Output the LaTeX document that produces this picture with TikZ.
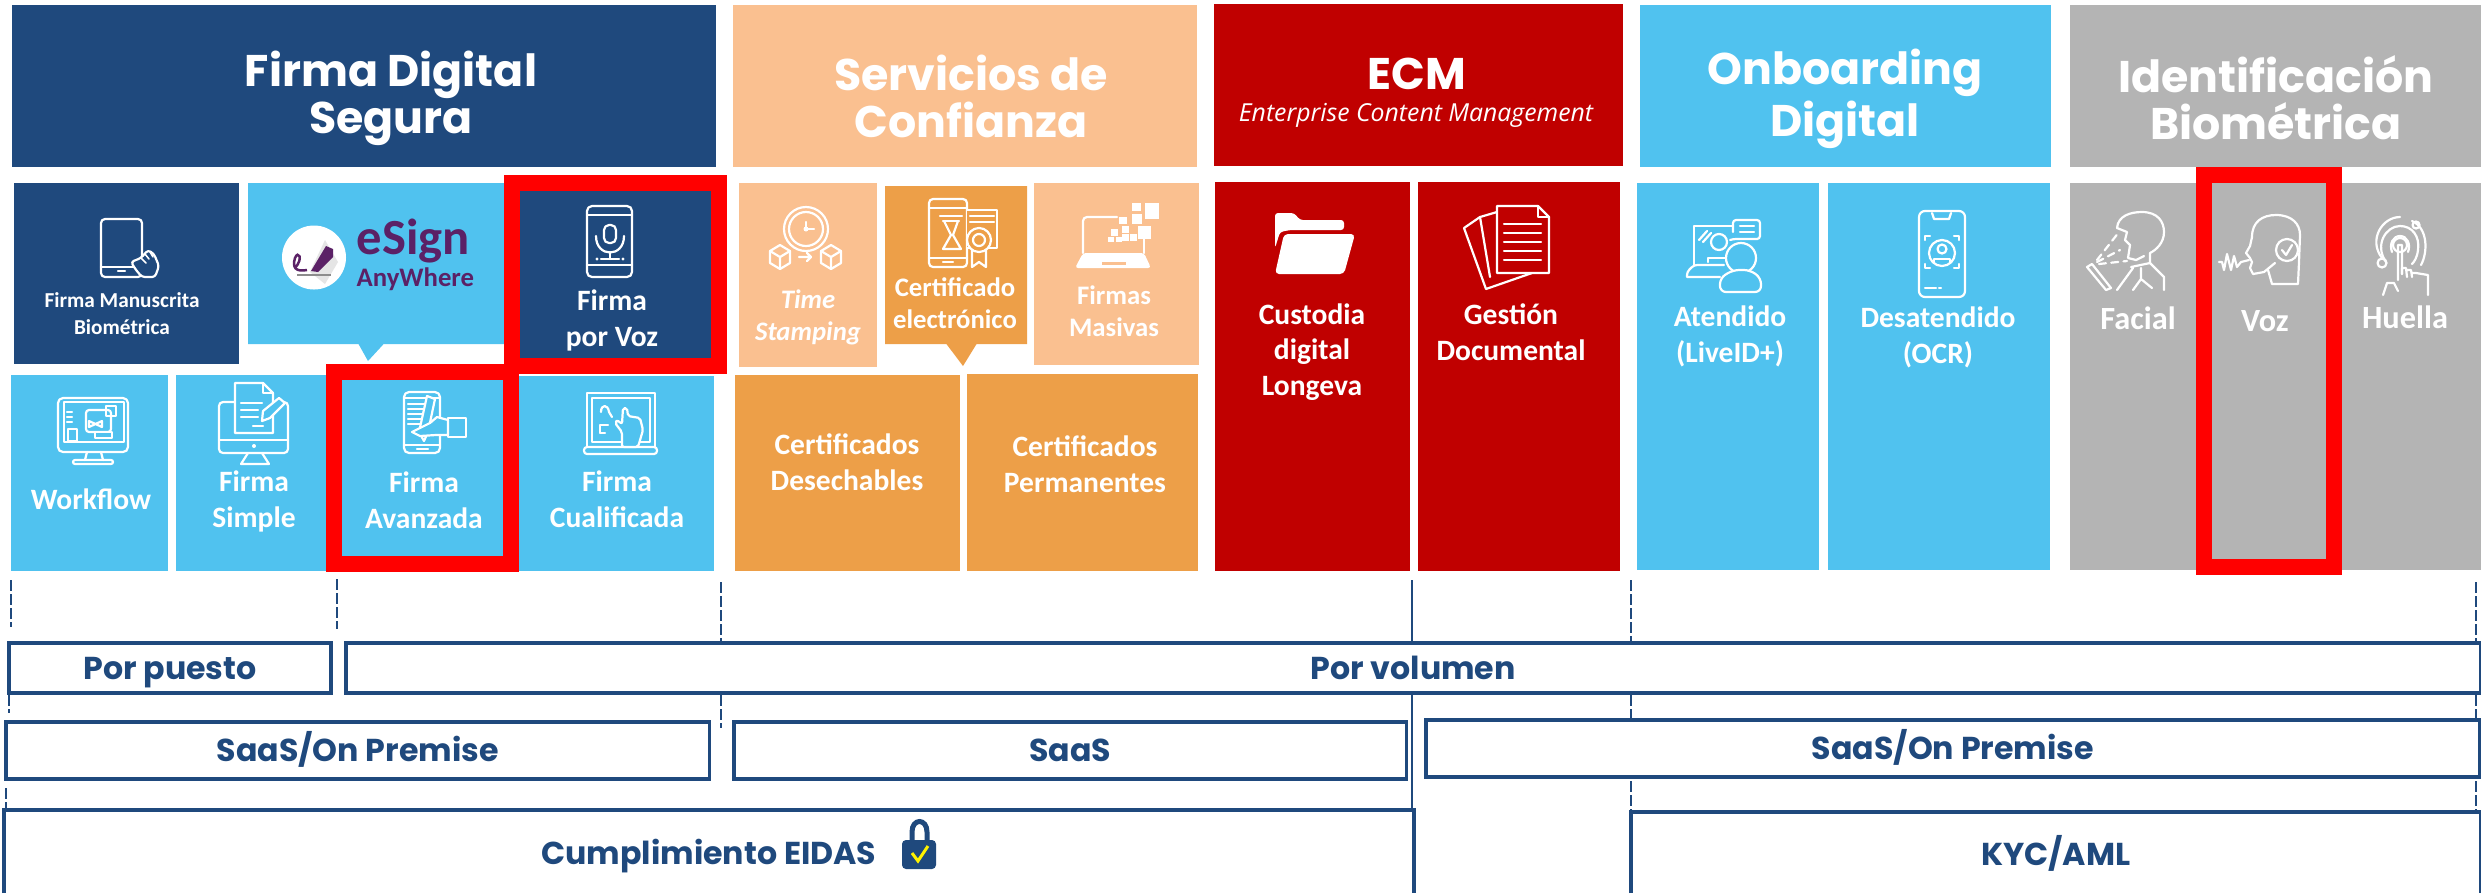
\documentclass[tikz,border=0pt]{standalone}
\usepackage{fontspec}
\setmainfont{Carlito}
\newfontfamily\headFont{Poppins}
\newfontfamily\subFont{Open Sans}
\usetikzlibrary{shapes.callouts}
\definecolor{navy}{HTML}{1F497D}
\definecolor{sky}{HTML}{50C2EF}
\definecolor{peach}{HTML}{FAC090}
\definecolor{amber}{HTML}{ED9F48}
\definecolor{wine}{HTML}{C00000}
\definecolor{stone}{HTML}{B4B4B4}
\definecolor{plum}{HTML}{5B2166}

\begin{document}
\begin{tikzpicture}[x=0.01cm,y=-0.01cm]
	\tikzstyle{tile} = [rectangle, anchor=north west, inner sep=0pt, outer sep=0pt, draw=none]
	\tikzstyle{navyTile} = [tile, fill=navy]
	\tikzstyle{skyTile} = [tile, fill=sky]
	\tikzstyle{peachTile} = [tile, fill=peach]
	\tikzstyle{amberTile} = [tile, fill=amber]
	\tikzstyle{wineTile} = [tile, fill=wine]
	\tikzstyle{stoneTile} = [tile, fill=stone]
	\tikzstyle{redFrame} = [tile, draw=red, line width=0.16cm]
	\tikzstyle{band} = [tile, draw=navy, line width=0.035cm, text=navy, text height=0.22cm, text depth=0cm,
	font=\headFont\bfseries\fontsize{9}{10}\selectfont]
	\tikzstyle{openBand} = [band, draw=none, text height=0.26cm]
	\tikzstyle{headText} = [anchor=base, align=center, text=white, inner sep=0pt,
	font=\headFont\bfseries\fontsize{12.6}{13.1}\selectfont]
	\tikzstyle{tileText} = [anchor=base, align=center, text=white, inner sep=0pt,
	font=\bfseries\fontsize{8.4}{9.96}\selectfont]
	\tikzstyle{iconLine} = [draw=white, line width=0.022cm, line join=round, line cap=round]
	\tikzstyle{guide} = [draw=navy, line width=0.012cm, dashed, dash pattern=on 3pt off 1pt]
	\useasboundingbox (0,0) rectangle (2481,893);

	% headers
	\node (firmaDigital) [navyTile, minimum width=7.04cm, minimum height=1.62cm] at (12,5) {};
	\node (servicios) [peachTile, minimum width=4.64cm, minimum height=1.62cm] at (733,5) {};
	\node (ecm) [wineTile, minimum width=4.09cm, minimum height=1.62cm] at (1214,4) {};
	\node (onboarding) [skyTile, minimum width=4.11cm, minimum height=1.62cm] at (1640,5) {};
	\node (identificacion) [stoneTile, minimum width=4.11cm, minimum height=1.62cm] at (2070,5) {};
	\node (firmaDigitalText) [headText] at (391,133) {Firma Digital\\Segura};
	\node (serviciosText) [headText] at (971,137) {Servicios de\\Confianza};
	\node (ecmText) [headText] at (1417,89) {ECM};
	\node (ecmSub) [anchor=base, text=white, inner sep=0pt, font=\subFont\itshape\fontsize{7.05}{8}\selectfont] at (1416,121) {Enterprise Content Management};
	\node (onboardingText) [headText] at (1845,136) {Onboarding\\Digital};
	\node (identificacionText) [headText] at (2276,139) {Identificación\\Biométrica};

	% firma digital
	\node (manuscrita) [navyTile, minimum width=2.25cm, minimum height=1.81cm] at (14,183) {};
	\node (esign) [tile, rectangle callout, fill=sky, minimum width=2.75cm, minimum height=1.61cm,
	callout absolute pointer={(368,361)}, callout pointer width=0.25cm] at (248,183) {};
	\node (workflow) [skyTile, minimum width=1.57cm, minimum height=1.96cm] at (11,375) {};
	\node (simple) [skyTile, minimum width=1.70cm, minimum height=1.96cm] at (176,375) {};
	\node (cualificada) [skyTile, minimum width=2.14cm, minimum height=1.95cm] at (500,376) {};
	\node (avanzada) [skyTile, minimum width=1.61cm, minimum height=1.76cm] at (342,380) {};
	\node (porVoz) [navyTile, minimum width=1.91cm, minimum height=1.67cm] at (520,191) {};
	\node (porVozFrame) [redFrame, minimum width=2.07cm, minimum height=1.83cm] at (512,183) {};
	\node (avanzadaFrame) [redFrame, minimum width=1.77cm, minimum height=1.92cm] at (334,372) {};

	% servicios
	\node (timeStamping) [peachTile, minimum width=1.38cm, minimum height=1.84cm] at (739,183) {};
	\node (certificado) [tile, rectangle callout, fill=amber, minimum width=1.42cm, minimum height=1.58cm,
	callout absolute pointer={(963,366)}, callout pointer width=0.30cm] at (885,186) {};
	\node (masivas) [peachTile, minimum width=1.65cm, minimum height=1.82cm] at (1034,183) {};
	\node (desechables) [amberTile, minimum width=2.25cm, minimum height=1.96cm] at (735,375) {};
	\node (permanentes) [amberTile, minimum width=2.31cm, minimum height=1.97cm] at (967,374) {};

	% ecm, onboarding, biometria
	\node (custodia) [wineTile, minimum width=1.95cm, minimum height=3.89cm] at (1215,182) {};
	\node (gestion) [wineTile, minimum width=2.02cm, minimum height=3.89cm] at (1418,182) {};
	\node (atendido) [skyTile, minimum width=1.82cm, minimum height=3.87cm] at (1637,183) {};
	\node (desatendido) [skyTile, minimum width=2.22cm, minimum height=3.87cm] at (1828,183) {};
	\node (facial) [stoneTile, minimum width=1.40cm, minimum height=3.87cm] at (2070,183) {};
	\node (voz) [stoneTile, minimum width=1.40cm, minimum height=3.87cm] at (2205,183) {};
	\node (huella) [stoneTile, minimum width=1.40cm, minimum height=3.87cm] at (2341,183) {};
	\node (vozFrame) [redFrame, minimum width=1.30cm, minimum height=3.92cm] at (2203.5,175) {};

	% tile texts
	\node (manuscritaText) [tileText, font=\bfseries\fontsize{6.05}{7.4}\selectfont] at (122,334) {Firma Manuscrita\\Biométrica};
	\node (porVozText) [tileText] at (612,346) {Firma\\por Voz};
	\node (workflowText) [tileText] at (91,509) {Workflow};
	\node (simpleText) [tileText] at (254,527) {Firma\\Simple};
	\node (avanzadaText) [tileText] at (424,528) {Firma\\Avanzada};
	\node (cualificadaText) [tileText] at (617,527) {Firma\\Cualificada};
	\node (timeStampingText) [tileText, font=\bfseries\itshape\fontsize{7.6}{9.1}\selectfont] at (808,340) {Time\\Stamping};
	\node (certificadoText) [tileText, font=\bfseries\fontsize{7.6}{9.1}\selectfont] at (955,328) {Certificado\\electrónico};
	\node (masivasText) [tileText, font=\bfseries\fontsize{7.6}{9.1}\selectfont] at (1114,336) {Firmas\\Masivas};
	\node (desechablesText) [tileText] at (847,490) {Certificados\\Desechables};
	\node (permanentesText) [tileText] at (1085,492) {Certificados\\Permanentes};
	\node (custodiaText) [tileText] at (1312,395) {Custodia\\digital\\Longeva};
	\node (gestionText) [tileText] at (1511,360) {Gestión\\Documental};
	\node (atendidoText) [tileText] at (1730,362) {Atendido\\(LiveID+)};
	\node (desatendidoText) [tileText] at (1938,363) {Desatendido\\(OCR)};
	\node (facialText) [tileText, font=\bfseries\fontsize{9.2}{10}\selectfont] at (2138,329) {Facial};
	\node (vozText) [tileText, font=\bfseries\fontsize{9.2}{10}\selectfont] at (2265,331) {Voz};
	\node (huellaText) [tileText, font=\bfseries\fontsize{9.2}{10}\selectfont] at (2405,328) {Huella};

	% esign logo
	\fill [white] (314,257.5) circle [radius=32];
	\fill [black!10] (325,240) -- (338,262) -- (325,284) -- (310,272) -- cycle;
	\draw [black!45, line width=0.012cm] (297,275) -- (331,275);
	\fill [plum] (311,271) -- (326,246) -- (333,249) -- (333,257) -- (318,272) -- cycle;
	\draw [plum, line width=0.025cm] (295,268) .. controls (304,258) and (298,250) .. (295,258) .. controls (292,268) and (296,272) .. (307,270);
	\node (esignText) [anchor=base west, text=plum, inner sep=0pt, font=\bfseries\fontsize{14.4}{14}\selectfont] at (356,254) {eSign};
	\node (anywhereText) [anchor=base west, text=plum, inner sep=0pt, font=\bfseries\fontsize{7.6}{8}\selectfont] at (356,286) {AnyWhere};

	% icons: manuscrita
	\draw [iconLine, rounded corners=0.04cm] (101,219) rectangle (142,277);
	\draw [iconLine] (101,267) -- (142,267);
	\draw [iconLine] (118,271) -- (125,271);
	\filldraw [iconLine, fill=navy, rounded corners=0.03cm] (131,262) -- (136,260) -- (141,258) -- (148,250) -- (154,254) -- (159,266) -- (155,277) -- (142,277) -- (136,270) -- cycle;
	\draw [iconLine, line width=0.015cm] (141,258) -- (146,263) (145,254) -- (149,259) (150,252) -- (153,257);
	% icons: por voz
	\draw [iconLine, rounded corners=0.05cm] (587,206) rectangle (632,277);
	\draw [iconLine] (587,215) -- (632,215) (587,265) -- (632,265);
	\draw [iconLine, rounded corners=0.05cm] (604,225) rectangle (616,243);
	\draw [iconLine] (596,236) .. controls (596,258) and (624,258) .. (624,236);
	\draw [iconLine] (610,252) -- (610,259) (601,259) -- (619,259);
	\fill [white] (597,259) circle [radius=1.6] (623,259) circle [radius=1.6];
	% icons: workflow
	\draw [iconLine, rounded corners=0.05cm] (58,398) rectangle (128,452);
	\draw [iconLine] (64,402) rectangle (124,442);
	\draw [iconLine] (87,452) -- (85,460) (101,452) -- (103,460);
	\draw [iconLine, rounded corners=0.02cm] (73,460) rectangle (113,464);
	\draw [iconLine] (67,412) -- (72,412) (67,417) -- (72,417) (67,422) -- (72,422);
	\draw [iconLine, rounded corners=0.03cm] (86,410) rectangle (111,432);
	\draw [iconLine] (68,429) rectangle (77,441);
	\draw [iconLine] (106,406) rectangle (116,416);
	\draw [iconLine] (89,421) -- (102,427) -- (102,421) -- (89,427) -- cycle;
	\filldraw [iconLine, fill=sky] (95,432) rectangle (112,438);
	% icons: simple
	\draw [iconLine, rounded corners=0.04cm] (219,402) rectangle (288,453);
	\draw [iconLine] (219,440) -- (288,440);
	\draw [iconLine] (248,453) -- (241,464) -- (269,464) -- (262,453);
	\fill [white] (254,446) circle [radius=2];
	\filldraw [iconLine, fill=sky] (235,383) -- (263,383) -- (273,393) -- (273,433) -- (235,433) -- cycle;
	\draw [iconLine] (263,383) -- (263,393) -- (273,393);
	\draw [iconLine] (241,403) -- (262,403) (241,410) -- (258,410) (241,417) -- (258,417) (253,426) -- (263,426);
	\filldraw [iconLine, fill=sky] (262,421) -- (263,411) -- (279,398) -- (285,403) -- (270,418) -- cycle;
	% icons: avanzada
	\draw [iconLine, rounded corners=0.05cm] (404,392) rectangle (440,453);
	\draw [iconLine] (404,398) -- (440,398) (404,445) -- (440,445) (417,449) -- (428,449);
	\draw [iconLine] (408,404) -- (426,404) (408,409) -- (426,409) (408,414) -- (424,414) (408,419) -- (422,419) (408,424) -- (420,424);
	\filldraw [iconLine, fill=sky] (427,396) -- (435,399) -- (428,432) -- (424,441) -- (419,432) -- cycle;
	\filldraw [iconLine, fill=sky] (430,423) -- (437,417) -- (448,420) -- (448,435) -- (436,435) -- (420,436) -- (412,432) -- cycle;
	\draw [iconLine] (448,418) rectangle (466,437);
	% icons: cualificada
	\draw [iconLine] (587,447) -- (587,393) -- (655,393) -- (655,447);
	\draw [iconLine] (592,442) -- (592,398) -- (650,398) -- (650,442) -- cycle;
	\draw [iconLine, rounded corners=0.03cm] (584,447) rectangle (657,454);
	\draw [iconLine] (600,425) -- (608,425) (600,425) -- (600,433) (600,433) -- (605,433);
	\draw [iconLine] (601,412) .. controls (601,404) and (608,404) .. (609,412) -- (612,417);
	\filldraw [iconLine, fill=sky, rounded corners=0.02cm] (622,447) -- (622,432) -- (615,423) -- (617,420) -- (622,424) -- (623,408) -- (627,408) -- (628,416) -- (640,418) -- (643,430) -- (638,447) -- cycle;
	% icons: time stamping
	\draw [iconLine] (806,229) circle [radius=22] (806,229) circle [radius=17];
	\draw [iconLine] (806,222) -- (806,229) -- (814,229);
	\fill [white] (806,229) circle [radius=2.5];
	\draw [iconLine] (780,245) -- (770,251) -- (770,263) -- (780,269) -- (790,263) -- (790,251) -- cycle;
	\draw [iconLine] (770,251) -- (780,257) -- (790,251) (780,257) -- (780,269);
	\draw [iconLine] (831,245) -- (821,251) -- (821,263) -- (831,269) -- (841,263) -- (841,251) -- cycle;
	\draw [iconLine] (821,251) -- (831,257) -- (841,251) (831,257) -- (831,269);
	\draw [iconLine] (799,257) -- (811,257) (807,253) -- (811,257) -- (807,261);
	% icons: certificado
	\draw [iconLine, rounded corners=0.04cm] (929,199) rectangle (967,267);
	\draw [iconLine] (929,208) -- (967,208) (929,258) -- (967,258) (943,262) -- (953,262);
	\draw [iconLine] (940,216) -- (962,216) (943,221) -- (959,221);
	\draw [iconLine] (944,221) -- (951,235) -- (943,249) -- (961,249) -- (953,235) -- (958,221);
	\filldraw [iconLine, fill=amber] (967,210) -- (997,210) -- (997,248) -- (967,248);
	\draw [iconLine] (970,216) -- (994,216) (970,222) -- (994,222);
	\draw [iconLine] (972,250) -- (972,267) -- (979,262) -- (986,267) -- (986,250);
	\filldraw [iconLine, fill=amber] (979,240) circle [radius=12];
	\draw [iconLine] (979,240) circle [radius=6];
	% icons: masivas
	\draw [iconLine, rounded corners=0.04cm] (1083,253) -- (1083,217) -- (1117,217);
	\draw [iconLine] (1144,238) -- (1144,253);
	\fill [white, rounded corners=0.03cm] (1083,253) -- (1144,253) -- (1151,268) -- (1075,268) -- cycle;
	\fill [peach] (1102,262) rectangle (1126,265);
	\foreach \px/\py/\pw/\ph in {1132/203/9/8, 1145/203/14/16, 1132/214/10/10, 1119/217/8/7, 1138/226/13/13,
		1122/226/7/7, 1111/229/7/7, 1122/234/7/7, 1130/234/7/7, 1108/237/6/5, 1116/237/6/5}
		\fill [white] (\px,\py) rectangle ++(\pw,\ph);
	% icons: custodia
	\fill [white, rounded corners=0.03cm] (1275,248) -- (1275,213) -- (1294,213) -- (1300,220) -- (1344,220) -- (1344,230) -- (1290,230) -- (1280,232) -- cycle;
	\fill [white, rounded corners=0.04cm] (1284,234) -- (1355,234) -- (1344,274) -- (1275,274) -- cycle;
	% icons: gestion
	\draw [iconLine] (1480,217) -- (1464,228) -- (1486,289) -- (1532,273);
	\draw [iconLine] (1497,212) -- (1480,217) -- (1490,277);
	\filldraw [iconLine, fill=wine] (1497,206) -- (1538,206) -- (1549,217) -- (1549,273) -- (1497,273) -- cycle;
	\draw [iconLine] (1538,206) -- (1538,217) -- (1549,217);
	\foreach \ly in {224,233,242,251,260}
		\draw [iconLine] (1504,\ly) -- (1541,\ly);
	% icons: atendido
	\draw [iconLine] (1694,265) -- (1694,226) -- (1733,226);
	\draw [iconLine, rounded corners=0.03cm] (1733,232) -- (1733,220) -- (1760,220) -- (1760,239) -- (1733,239) -- (1730,240);
	\draw [iconLine] (1740,226) -- (1754,226) (1740,232) -- (1754,232);
	\draw [iconLine] (1699,240) -- (1707,231) (1703,242) -- (1711,233);
	\draw [iconLine] (1719,242) circle [radius=8];
	\draw [iconLine] (1708,262) -- (1708,258) -- (1727,258);
	\draw [iconLine, rounded corners=0.03cm] (1687,277) -- (1687,272) -- (1694,265) -- (1724,265) (1687,277) -- (1720,277);
	\filldraw [iconLine, fill=sky] (1741,258) circle [radius=15];
	\filldraw [iconLine, fill=sky, rounded corners=0.06cm] (1720,292) -- (1720,278) -- (1733,270) -- (1750,270) -- (1761,278) -- (1761,292) -- cycle;
	% icons: desatendido
	\draw [iconLine, rounded corners=0.06cm] (1919,211) rectangle (1965,297);
	\draw [iconLine] (1932,213) -- (1934,219) -- (1949,219) -- (1951,213);
	\draw [iconLine] (1925,240) -- (1925,236) -- (1930,236) (1954,236) -- (1959,236) -- (1959,240);
	\draw [iconLine] (1925,264) -- (1925,268) -- (1930,268) (1954,268) -- (1959,268) -- (1959,264);
	\draw [iconLine] (1942,253) circle [radius=13];
	\draw [iconLine] (1942,249) circle [radius=4.5];
	\draw [iconLine] (1934,262) -- (1934,259) -- (1950,259) -- (1950,262);
	\draw [iconLine] (1925,288) -- (1936,288) (1939,288) -- (1941,288);
	% icons: facial
	\draw [iconLine] (2117,228) .. controls (2118,216) and (2130,212) .. (2142,212) .. controls (2158,212) and (2164,222) .. (2164,232) .. controls (2164,243) and (2156,250) .. (2150,253) -- (2150,263);
	\draw [iconLine] (2117,228) -- (2127,232) -- (2125,240) -- (2130,245) -- (2128,258) -- (2136,260) -- (2144,256);
	\draw [iconLine] (2131,267) -- (2150,263) (2133,268) -- (2117,290) (2150,263) -- (2164,277) -- (2164,290) (2133,290) -- (2141,279) -- (2152,288) (2141,279) -- (2141,268);
	\draw [iconLine] (2087,267) -- (2092,264) -- (2111,288) -- (2106,290) -- cycle;
	\draw [iconLine, dashed, dash pattern=on 2pt off 1.5pt] (2097,260) -- (2119,232);
	\draw [iconLine, dashed, dash pattern=on 2pt off 1.5pt] (2097,262) -- (2120,250);
	\draw [iconLine, dashed, dash pattern=on 2pt off 1.5pt] (2099,264) -- (2127,261);
	% icons: voz
	\draw [iconLine] (2252,237) .. controls (2252,222) and (2262,215) .. (2276,215) .. controls (2292,215) and (2300,224) .. (2300,235) -- (2299,262) -- (2298,284) -- (2272,284) -- (2268,270);
	\draw [iconLine] (2252,237) -- (2250,246) -- (2246,253) -- (2250,258) -- (2252,262) -- (2250,268) -- (2253,274) -- (2264,272) -- (2275,263);
	\filldraw [iconLine, fill=stone] (2287,250) circle [radius=11];
	\draw [iconLine] (2282,250) -- (2286,255) -- (2292,245);
	\draw [iconLine] (2219,262) -- (2222,262) -- (2224,270) -- (2227,254) -- (2231,270) -- (2234,256) -- (2237,267) -- (2241,262) -- (2249,260);
	% icons: huella
	\draw [iconLine] (2400,245) circle [radius=7];
	\draw [iconLine] (2386,262) .. controls (2374,245) and (2386,226) .. (2400,226) .. controls (2412,226) and (2420,236) .. (2418,250) .. controls (2417,258) and (2414,262) .. (2412,264);
	\draw [iconLine] (2382,258) .. controls (2368,240) and (2382,217) .. (2400,217) (2412,221) .. controls (2428,228) and (2428,252) .. (2421,265);
	\draw [iconLine] (2392,252) .. controls (2389,244) and (2393,236) .. (2400,236) .. controls (2407,236) and (2411,244) .. (2408,252);
	\draw [iconLine] (2416,225) circle [radius=3.5] (2382,263) circle [radius=4.5];
	\draw [iconLine] (2383,295) -- (2387,283) -- (2394,283) -- (2398,291) (2398,280) -- (2398,245) -- (2402,245) -- (2402,274);
	\draw [iconLine] (2402,274) -- (2402,268) -- (2406,268) -- (2407,277) (2407,270) -- (2411,270) -- (2412,277) (2412,273) -- (2416,273) -- (2428,275) -- (2428,295);

	% guide lines
	\foreach \gi/\gx/\ga/\gb in {a/11/580/627, b/337/579/629, c/721/582/641, d/721/695/728, e/9/695/713, f/6/788/808,
		g/1631/580/641, h/1631/695/718, i/1631/781/810, j/2476/582/641, k/2476/695/718, l/2476/781/810} {
		\coordinate (guide\gi Top) at (\gx,\ga);
		\coordinate (guide\gi Bottom) at (\gx,\gb);
		\draw [guide] (guide\gi Top) -- (guide\gi Bottom);
	}
	\coordinate (axisTop) at (1412,580);
	\coordinate (axisMid) at (1412,641);
	\coordinate (axisLow) at (1412,695);
	\coordinate (axisEnd) at (1412,808);
	\draw [draw=navy, line width=0.012cm] (axisTop) -- (axisMid);
	\draw [draw=navy, line width=0.012cm] (axisLow) -- (axisEnd);

	% bands
	\node (porPuesto) [band, minimum width=3.22cm, minimum height=0.50cm] at (9,643) {Por puesto};
	\node (porVolumen) [band, minimum width=21.33cm, minimum height=0.50cm] at (346,643) {Por volumen};
	\node (saasLeft) [band, minimum width=7.03cm, minimum height=0.57cm] at (6,722) {SaaS/On Premise};
	\node (saasMid) [band, minimum width=6.72cm, minimum height=0.57cm] at (734,722) {SaaS};
	\node (saasRight) [band, minimum width=10.53cm, minimum height=0.57cm] at (1426,720) {SaaS/On Premise};
	\node (eidas) [openBand, minimum width=14.09cm, minimum height=0.83cm] at (4,810) {Cumplimiento EIDAS};
	\node (kyc) [openBand, minimum width=8.49cm, minimum height=0.81cm] at (1631,812) {KYC/AML};
	\draw [draw=navy, line width=0.035cm] (eidas.south west) -- (eidas.north west) -- (eidas.north east) -- (eidas.south east);
	\draw [draw=navy, line width=0.035cm] (kyc.south west) -- (kyc.north west) -- (kyc.north east) -- (kyc.south east);

	% lock
	\draw [navy, line width=0.05cm] (912,842) -- (912,832) .. controls (912,818) and (927,818) .. (927,832) -- (927,842);
	\fill [navy, rounded corners=0.04cm] (902,840) rectangle (936,869);
	\draw [yellow, line width=0.03cm] (912,853) -- (918,861) -- (928,846);
\end{tikzpicture}
\end{document}
